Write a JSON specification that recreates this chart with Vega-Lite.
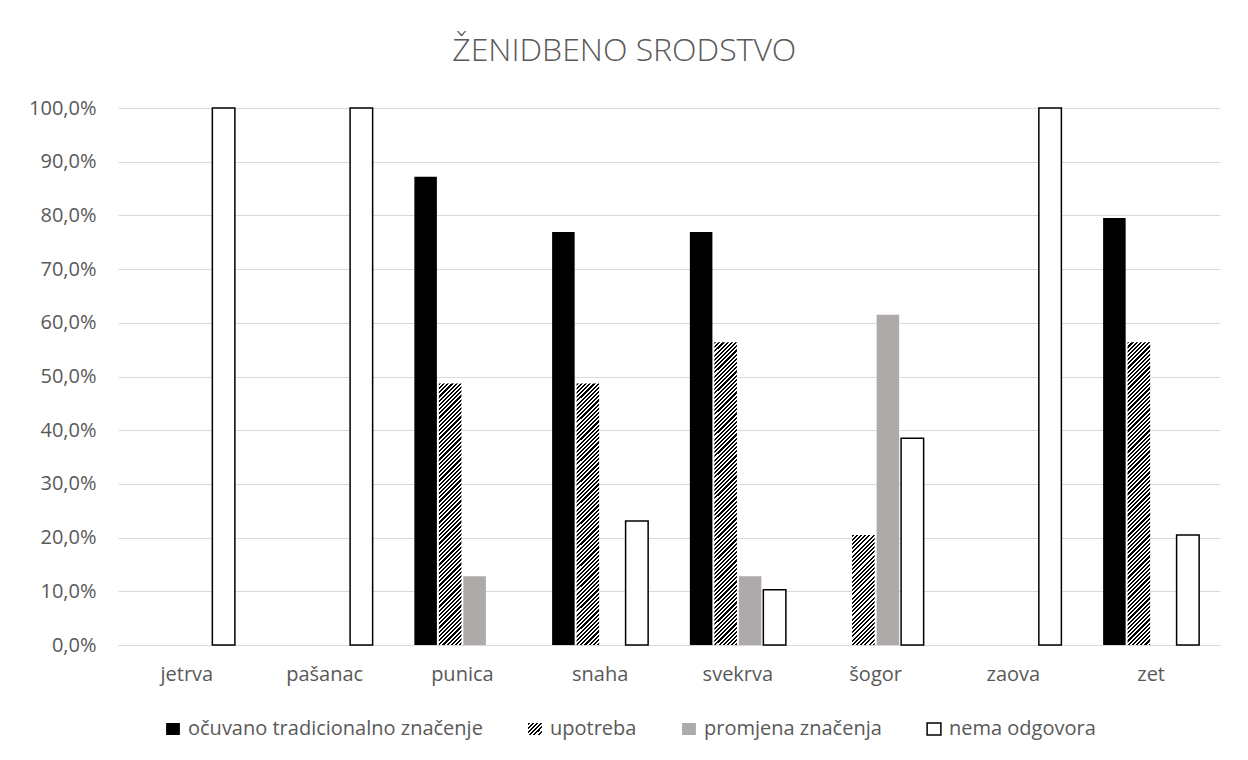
{
  "$schema": "https://vega.github.io/schema/vega-lite/v6.json",
  "width": 1102,
  "height": 537,
  "autosize": {"type": "none"},
  "padding": {"left": 118, "top": 108, "right": 28, "bottom": 115},
  "background": "#ffffff",
  "title": {
    "text": "ŽENIDBENO SRODSTVO",
    "font": "Open Sans",
    "fontSize": 32,
    "fontWeight": 300,
    "color": "#595959",
    "anchor": "middle",
    "frame": "bounds",
    "offset": 30
  },
  "params": [
    {
      "name": "hs",
      "value": [
{"offset":0,"color":"#000"},{"offset":0.00625,"color":"#000"},{"offset":0.00625,"color":"#fff"},{"offset":0.0125,"color":"#fff"},
{"offset":0.0125,"color":"#000"},{"offset":0.01875,"color":"#000"},{"offset":0.01875,"color":"#fff"},{"offset":0.025,"color":"#fff"},
{"offset":0.025,"color":"#000"},{"offset":0.03125,"color":"#000"},{"offset":0.03125,"color":"#fff"},{"offset":0.0375,"color":"#fff"},
{"offset":0.0375,"color":"#000"},{"offset":0.04375,"color":"#000"},{"offset":0.04375,"color":"#fff"},{"offset":0.05,"color":"#fff"},
{"offset":0.05,"color":"#000"},{"offset":0.05625,"color":"#000"},{"offset":0.05625,"color":"#fff"},{"offset":0.0625,"color":"#fff"},
{"offset":0.0625,"color":"#000"},{"offset":0.06875,"color":"#000"},{"offset":0.06875,"color":"#fff"},{"offset":0.075,"color":"#fff"},
{"offset":0.075,"color":"#000"},{"offset":0.08125,"color":"#000"},{"offset":0.08125,"color":"#fff"},{"offset":0.0875,"color":"#fff"},
{"offset":0.0875,"color":"#000"},{"offset":0.09375,"color":"#000"},{"offset":0.09375,"color":"#fff"},{"offset":0.1,"color":"#fff"},
{"offset":0.1,"color":"#000"},{"offset":0.10625,"color":"#000"},{"offset":0.10625,"color":"#fff"},{"offset":0.1125,"color":"#fff"},
{"offset":0.1125,"color":"#000"},{"offset":0.11875,"color":"#000"},{"offset":0.11875,"color":"#fff"},{"offset":0.125,"color":"#fff"},
{"offset":0.125,"color":"#000"},{"offset":0.13125,"color":"#000"},{"offset":0.13125,"color":"#fff"},{"offset":0.1375,"color":"#fff"},
{"offset":0.1375,"color":"#000"},{"offset":0.14375,"color":"#000"},{"offset":0.14375,"color":"#fff"},{"offset":0.15,"color":"#fff"},
{"offset":0.15,"color":"#000"},{"offset":0.15625,"color":"#000"},{"offset":0.15625,"color":"#fff"},{"offset":0.1625,"color":"#fff"},
{"offset":0.1625,"color":"#000"},{"offset":0.16875,"color":"#000"},{"offset":0.16875,"color":"#fff"},{"offset":0.175,"color":"#fff"},
{"offset":0.175,"color":"#000"},{"offset":0.18125,"color":"#000"},{"offset":0.18125,"color":"#fff"},{"offset":0.1875,"color":"#fff"},
{"offset":0.1875,"color":"#000"},{"offset":0.19375,"color":"#000"},{"offset":0.19375,"color":"#fff"},{"offset":0.2,"color":"#fff"},
{"offset":0.2,"color":"#000"},{"offset":0.20625,"color":"#000"},{"offset":0.20625,"color":"#fff"},{"offset":0.2125,"color":"#fff"},
{"offset":0.2125,"color":"#000"},{"offset":0.21875,"color":"#000"},{"offset":0.21875,"color":"#fff"},{"offset":0.225,"color":"#fff"},
{"offset":0.225,"color":"#000"},{"offset":0.23125,"color":"#000"},{"offset":0.23125,"color":"#fff"},{"offset":0.2375,"color":"#fff"},
{"offset":0.2375,"color":"#000"},{"offset":0.24375,"color":"#000"},{"offset":0.24375,"color":"#fff"},{"offset":0.25,"color":"#fff"},
{"offset":0.25,"color":"#000"},{"offset":0.25625,"color":"#000"},{"offset":0.25625,"color":"#fff"},{"offset":0.2625,"color":"#fff"},
{"offset":0.2625,"color":"#000"},{"offset":0.26875,"color":"#000"},{"offset":0.26875,"color":"#fff"},{"offset":0.275,"color":"#fff"},
{"offset":0.275,"color":"#000"},{"offset":0.28125,"color":"#000"},{"offset":0.28125,"color":"#fff"},{"offset":0.2875,"color":"#fff"},
{"offset":0.2875,"color":"#000"},{"offset":0.29375,"color":"#000"},{"offset":0.29375,"color":"#fff"},{"offset":0.3,"color":"#fff"},
{"offset":0.3,"color":"#000"},{"offset":0.30625,"color":"#000"},{"offset":0.30625,"color":"#fff"},{"offset":0.3125,"color":"#fff"},
{"offset":0.3125,"color":"#000"},{"offset":0.31875,"color":"#000"},{"offset":0.31875,"color":"#fff"},{"offset":0.325,"color":"#fff"},
{"offset":0.325,"color":"#000"},{"offset":0.33125,"color":"#000"},{"offset":0.33125,"color":"#fff"},{"offset":0.3375,"color":"#fff"},
{"offset":0.3375,"color":"#000"},{"offset":0.34375,"color":"#000"},{"offset":0.34375,"color":"#fff"},{"offset":0.35,"color":"#fff"},
{"offset":0.35,"color":"#000"},{"offset":0.35625,"color":"#000"},{"offset":0.35625,"color":"#fff"},{"offset":0.3625,"color":"#fff"},
{"offset":0.3625,"color":"#000"},{"offset":0.36875,"color":"#000"},{"offset":0.36875,"color":"#fff"},{"offset":0.375,"color":"#fff"},
{"offset":0.375,"color":"#000"},{"offset":0.38125,"color":"#000"},{"offset":0.38125,"color":"#fff"},{"offset":0.3875,"color":"#fff"},
{"offset":0.3875,"color":"#000"},{"offset":0.39375,"color":"#000"},{"offset":0.39375,"color":"#fff"},{"offset":0.4,"color":"#fff"},
{"offset":0.4,"color":"#000"},{"offset":0.40625,"color":"#000"},{"offset":0.40625,"color":"#fff"},{"offset":0.4125,"color":"#fff"},
{"offset":0.4125,"color":"#000"},{"offset":0.41875,"color":"#000"},{"offset":0.41875,"color":"#fff"},{"offset":0.425,"color":"#fff"},
{"offset":0.425,"color":"#000"},{"offset":0.43125,"color":"#000"},{"offset":0.43125,"color":"#fff"},{"offset":0.4375,"color":"#fff"},
{"offset":0.4375,"color":"#000"},{"offset":0.44375,"color":"#000"},{"offset":0.44375,"color":"#fff"},{"offset":0.45,"color":"#fff"},
{"offset":0.45,"color":"#000"},{"offset":0.45625,"color":"#000"},{"offset":0.45625,"color":"#fff"},{"offset":0.4625,"color":"#fff"},
{"offset":0.4625,"color":"#000"},{"offset":0.46875,"color":"#000"},{"offset":0.46875,"color":"#fff"},{"offset":0.475,"color":"#fff"},
{"offset":0.475,"color":"#000"},{"offset":0.48125,"color":"#000"},{"offset":0.48125,"color":"#fff"},{"offset":0.4875,"color":"#fff"},
{"offset":0.4875,"color":"#000"},{"offset":0.49375,"color":"#000"},{"offset":0.49375,"color":"#fff"},{"offset":0.5,"color":"#fff"},
{"offset":0.5,"color":"#000"},{"offset":0.50625,"color":"#000"},{"offset":0.50625,"color":"#fff"},{"offset":0.5125,"color":"#fff"},
{"offset":0.5125,"color":"#000"},{"offset":0.51875,"color":"#000"},{"offset":0.51875,"color":"#fff"},{"offset":0.525,"color":"#fff"},
{"offset":0.525,"color":"#000"},{"offset":0.53125,"color":"#000"},{"offset":0.53125,"color":"#fff"},{"offset":0.5375,"color":"#fff"},
{"offset":0.5375,"color":"#000"},{"offset":0.54375,"color":"#000"},{"offset":0.54375,"color":"#fff"},{"offset":0.55,"color":"#fff"},
{"offset":0.55,"color":"#000"},{"offset":0.55625,"color":"#000"},{"offset":0.55625,"color":"#fff"},{"offset":0.5625,"color":"#fff"},
{"offset":0.5625,"color":"#000"},{"offset":0.56875,"color":"#000"},{"offset":0.56875,"color":"#fff"},{"offset":0.575,"color":"#fff"},
{"offset":0.575,"color":"#000"},{"offset":0.58125,"color":"#000"},{"offset":0.58125,"color":"#fff"},{"offset":0.5875,"color":"#fff"},
{"offset":0.5875,"color":"#000"},{"offset":0.59375,"color":"#000"},{"offset":0.59375,"color":"#fff"},{"offset":0.6,"color":"#fff"},
{"offset":0.6,"color":"#000"},{"offset":0.60625,"color":"#000"},{"offset":0.60625,"color":"#fff"},{"offset":0.6125,"color":"#fff"},
{"offset":0.6125,"color":"#000"},{"offset":0.61875,"color":"#000"},{"offset":0.61875,"color":"#fff"},{"offset":0.625,"color":"#fff"},
{"offset":0.625,"color":"#000"},{"offset":0.63125,"color":"#000"},{"offset":0.63125,"color":"#fff"},{"offset":0.6375,"color":"#fff"},
{"offset":0.6375,"color":"#000"},{"offset":0.64375,"color":"#000"},{"offset":0.64375,"color":"#fff"},{"offset":0.65,"color":"#fff"},
{"offset":0.65,"color":"#000"},{"offset":0.65625,"color":"#000"},{"offset":0.65625,"color":"#fff"},{"offset":0.6625,"color":"#fff"},
{"offset":0.6625,"color":"#000"},{"offset":0.66875,"color":"#000"},{"offset":0.66875,"color":"#fff"},{"offset":0.675,"color":"#fff"},
{"offset":0.675,"color":"#000"},{"offset":0.68125,"color":"#000"},{"offset":0.68125,"color":"#fff"},{"offset":0.6875,"color":"#fff"},
{"offset":0.6875,"color":"#000"},{"offset":0.69375,"color":"#000"},{"offset":0.69375,"color":"#fff"},{"offset":0.7,"color":"#fff"},
{"offset":0.7,"color":"#000"},{"offset":0.70625,"color":"#000"},{"offset":0.70625,"color":"#fff"},{"offset":0.7125,"color":"#fff"},
{"offset":0.7125,"color":"#000"},{"offset":0.71875,"color":"#000"},{"offset":0.71875,"color":"#fff"},{"offset":0.725,"color":"#fff"},
{"offset":0.725,"color":"#000"},{"offset":0.73125,"color":"#000"},{"offset":0.73125,"color":"#fff"},{"offset":0.7375,"color":"#fff"},
{"offset":0.7375,"color":"#000"},{"offset":0.74375,"color":"#000"},{"offset":0.74375,"color":"#fff"},{"offset":0.75,"color":"#fff"},
{"offset":0.75,"color":"#000"},{"offset":0.75625,"color":"#000"},{"offset":0.75625,"color":"#fff"},{"offset":0.7625,"color":"#fff"},
{"offset":0.7625,"color":"#000"},{"offset":0.76875,"color":"#000"},{"offset":0.76875,"color":"#fff"},{"offset":0.775,"color":"#fff"},
{"offset":0.775,"color":"#000"},{"offset":0.78125,"color":"#000"},{"offset":0.78125,"color":"#fff"},{"offset":0.7875,"color":"#fff"},
{"offset":0.7875,"color":"#000"},{"offset":0.79375,"color":"#000"},{"offset":0.79375,"color":"#fff"},{"offset":0.8,"color":"#fff"},
{"offset":0.8,"color":"#000"},{"offset":0.80625,"color":"#000"},{"offset":0.80625,"color":"#fff"},{"offset":0.8125,"color":"#fff"},
{"offset":0.8125,"color":"#000"},{"offset":0.81875,"color":"#000"},{"offset":0.81875,"color":"#fff"},{"offset":0.825,"color":"#fff"},
{"offset":0.825,"color":"#000"},{"offset":0.83125,"color":"#000"},{"offset":0.83125,"color":"#fff"},{"offset":0.8375,"color":"#fff"},
{"offset":0.8375,"color":"#000"},{"offset":0.84375,"color":"#000"},{"offset":0.84375,"color":"#fff"},{"offset":0.85,"color":"#fff"},
{"offset":0.85,"color":"#000"},{"offset":0.85625,"color":"#000"},{"offset":0.85625,"color":"#fff"},{"offset":0.8625,"color":"#fff"},
{"offset":0.8625,"color":"#000"},{"offset":0.86875,"color":"#000"},{"offset":0.86875,"color":"#fff"},{"offset":0.875,"color":"#fff"},
{"offset":0.875,"color":"#000"},{"offset":0.88125,"color":"#000"},{"offset":0.88125,"color":"#fff"},{"offset":0.8875,"color":"#fff"},
{"offset":0.8875,"color":"#000"},{"offset":0.89375,"color":"#000"},{"offset":0.89375,"color":"#fff"},{"offset":0.9,"color":"#fff"},
{"offset":0.9,"color":"#000"},{"offset":0.90625,"color":"#000"},{"offset":0.90625,"color":"#fff"},{"offset":0.9125,"color":"#fff"},
{"offset":0.9125,"color":"#000"},{"offset":0.91875,"color":"#000"},{"offset":0.91875,"color":"#fff"},{"offset":0.925,"color":"#fff"},
{"offset":0.925,"color":"#000"},{"offset":0.93125,"color":"#000"},{"offset":0.93125,"color":"#fff"},{"offset":0.9375,"color":"#fff"},
{"offset":0.9375,"color":"#000"},{"offset":0.94375,"color":"#000"},{"offset":0.94375,"color":"#fff"},{"offset":0.95,"color":"#fff"},
{"offset":0.95,"color":"#000"},{"offset":0.95625,"color":"#000"},{"offset":0.95625,"color":"#fff"},{"offset":0.9625,"color":"#fff"},
{"offset":0.9625,"color":"#000"},{"offset":0.96875,"color":"#000"},{"offset":0.96875,"color":"#fff"},{"offset":0.975,"color":"#fff"},
{"offset":0.975,"color":"#000"},{"offset":0.98125,"color":"#000"},{"offset":0.98125,"color":"#fff"},{"offset":0.9875,"color":"#fff"},
{"offset":0.9875,"color":"#000"},{"offset":0.99375,"color":"#000"},{"offset":0.99375,"color":"#fff"},{"offset":1,"color":"#fff"}
      ]
    }
  ],
  "data": {
    "values": [
      {"k": "jetrva", "s": "nema odgovora", "v": 1.0},
      {"k": "pašanac", "s": "nema odgovora", "v": 1.0},
      {"k": "punica", "s": "očuvano tradicionalno značenje", "v": 0.872},
      {"k": "punica", "s": "upotreba", "v": 0.487},
      {"k": "punica", "s": "promjena značenja", "v": 0.128},
      {"k": "snaha", "s": "očuvano tradicionalno značenje", "v": 0.769},
      {"k": "snaha", "s": "upotreba", "v": 0.487},
      {"k": "snaha", "s": "nema odgovora", "v": 0.231},
      {"k": "svekrva", "s": "očuvano tradicionalno značenje", "v": 0.769},
      {"k": "svekrva", "s": "upotreba", "v": 0.564},
      {"k": "svekrva", "s": "promjena značenja", "v": 0.128},
      {"k": "svekrva", "s": "nema odgovora", "v": 0.103},
      {"k": "šogor", "s": "upotreba", "v": 0.205},
      {"k": "šogor", "s": "promjena značenja", "v": 0.615},
      {"k": "šogor", "s": "nema odgovora", "v": 0.385},
      {"k": "zaova", "s": "nema odgovora", "v": 1.0},
      {"k": "zet", "s": "očuvano tradicionalno značenje", "v": 0.795},
      {"k": "zet", "s": "upotreba", "v": 0.564},
      {"k": "zet", "s": "nema odgovora", "v": 0.205}
    ]
  },
  "mark": {"type": "bar", "strokeWidth": 1.5},
  "encoding": {
    "x": {
      "field": "k",
      "type": "nominal",
      "sort": ["jetrva", "pašanac", "punica", "snaha", "svekrva", "šogor", "zaova", "zet"],
      "scale": {"paddingInner": 0.303, "paddingOuter": 0.1515},
      "axis": {
        "title": null,
        "labelAngle": 0,
        "ticks": false,
        "domainColor": "#d9d9d9",
        "domainWidth": 1,
        "labelPadding": 19,
        "labelFont": "Open Sans",
        "labelFontSize": 20,
        "labelColor": "#595959"
      }
    },
    "xOffset": {
      "field": "s",
      "type": "nominal",
      "scale": {
        "domain": ["očuvano tradicionalno značenje", "upotreba", "promjena značenja", "nema odgovora"],
        "paddingInner": 0.08,
        "paddingOuter": 0
      }
    },
    "y": {
      "field": "v",
      "type": "quantitative",
      "stack": null,
      "scale": {"domain": [0, 1], "nice": false},
      "axis": {
        "title": null,
        "values": [0, 0.1, 0.2, 0.3, 0.4, 0.5, 0.6, 0.7, 0.8, 0.9, 1],
        "labelExpr": "replace(format(datum.value, '.1%'), '.', ',')",
        "domain": false,
        "ticks": false,
        "gridColor": "#d9d9d9",
        "gridWidth": 1,
        "labelPadding": 22,
        "labelFont": "Open Sans",
        "labelFontSize": 20,
        "labelColor": "#595959"
      }
    },
    "fill": {
      "field": "s",
      "type": "nominal",
      "condition": {
        "test": "datum.s === 'upotreba'",
        "value": {"expr": "{gradient: 'linear', x1: 0, y1: 0, x2: 22.5 * 336 / (506.25 + pow(datum.v * 537, 2)), y2: datum.v * 537 * 336 / (506.25 + pow(datum.v * 537, 2)), stops: hs}"}
      },
      "scale": {
        "domain": ["očuvano tradicionalno značenje", "upotreba", "promjena značenja", "nema odgovora"],
        "range": [
          "#000000",
          {"expr": "{gradient: 'linear', x1: 0, y1: 0, x2: 13.8 * 336 / (13.8 * 13.8 + 144), y2: 12 * 336 / (13.8 * 13.8 + 144), stops: hs}"},
          "#aeaaaa",
          "#ffffff"
        ]
      },
      "legend": {
        "title": null,
        "orient": "none",
        "legendX": 45,
        "legendY": 611,
        "direction": "horizontal",
        "padding": 0,
        "labelFont": "Open Sans",
        "labelFontSize": 20,
        "labelColor": "#595959",
        "symbolType": "M-1.15,-1H1.15V1H-1.15Z",
        "symbolSize": 144,
        "symbolStrokeWidth": 1.5,
        "labelOffset": 5,
        "columnPadding": 42,
        "labelLimit": 500
      }
    },
    "stroke": {
      "field": "s",
      "type": "nominal",
      "scale": {
        "domain": ["očuvano tradicionalno značenje", "upotreba", "promjena značenja", "nema odgovora"],
        "range": ["transparent", "transparent", "transparent", "#000000"]
      },
      "legend": {
        "title": null,
        "orient": "none",
        "legendX": 45,
        "legendY": 611,
        "direction": "horizontal",
        "padding": 0,
        "labelFont": "Open Sans",
        "labelFontSize": 20,
        "labelColor": "#595959",
        "symbolType": "M-1.15,-1H1.15V1H-1.15Z",
        "symbolSize": 144,
        "symbolStrokeWidth": 1.5,
        "labelOffset": 5,
        "columnPadding": 42,
        "labelLimit": 500
      }
    }
  },
  "config": {
    "view": {"stroke": null}
  }
}
